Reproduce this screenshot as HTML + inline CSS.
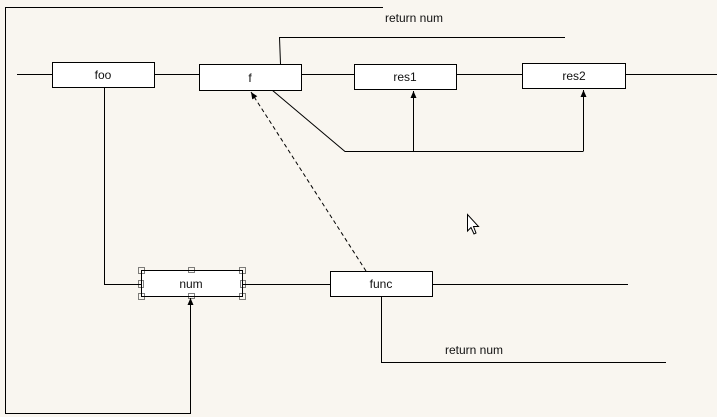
<!DOCTYPE html>
<html><head><meta charset="utf-8"><style>
html,body{margin:0;padding:0;background:#f9f6f0;}
svg{display:block;}
text{font-family:"Liberation Sans",sans-serif;font-size:12px;fill:#111;}
</style></head><body>
<svg width="717" height="417" viewBox="0 0 717 417" xmlns="http://www.w3.org/2000/svg">
<defs>
<marker id="a" markerWidth="8" markerHeight="8" refX="7" refY="4" orient="auto" markerUnits="userSpaceOnUse">
<path d="M0,1 L7,4 L0,7 Z" fill="#000"/></marker>
</defs>
<g stroke="#000" stroke-width="1" fill="none">
<polyline points="383,7.5 5.5,7.5 5.5,413.5 190.5,413.5 190.5,298" marker-end="url(#a)"/>
<line x1="17" y1="74.5" x2="717" y2="74.5"/>
<polyline points="280.5,64 279.5,37.5 565,37.5"/>
<polyline points="104.5,87 104.5,284.5 141,284.5"/>
<line x1="242" y1="284.5" x2="628" y2="284.5"/>
<polyline points="381.5,296 381.5,362.5 666,362.5"/>
<polyline points="272,90 345,151.5 583.5,151.5"/>
<line x1="413.5" y1="151" x2="413.5" y2="91" marker-end="url(#a)"/>
<line x1="583.5" y1="151" x2="583.5" y2="90" marker-end="url(#a)"/>
<line x1="366" y1="271" x2="251" y2="92" stroke-dasharray="4,3" marker-end="url(#a)"/>
</g>
<g stroke="#000" stroke-width="1" fill="#fff">
<rect x="52.5" y="62.5" width="102" height="25"/>
<rect x="199.5" y="64.5" width="102" height="26"/>
<rect x="354.5" y="64.5" width="102" height="25"/>
<rect x="522.5" y="63.5" width="103" height="25"/>
<rect x="141.5" y="270.5" width="101" height="26"/>
<rect x="330.5" y="271.5" width="102" height="25"/>
</g>
<g stroke="#000" stroke-width="1" fill="none" stroke-dasharray="1,1">
<rect x="138.5" y="267.5" width="6" height="6"/>
<rect x="239.5" y="267.5" width="6" height="6"/>
<rect x="138.5" y="293.5" width="6" height="6"/>
<rect x="239.5" y="293.5" width="6" height="6"/>
<rect x="188.5" y="267.5" width="6" height="5"/>
<rect x="188.5" y="293.5" width="6" height="5"/>
<rect x="138.5" y="280.5" width="5" height="7"/>
<rect x="240.5" y="280.5" width="5" height="7"/>
</g>
<text x="103" y="79" text-anchor="middle">foo</text>
<text x="250" y="82" text-anchor="middle">f</text>
<text x="405" y="81" text-anchor="middle">res1</text>
<text x="574" y="80" text-anchor="middle">res2</text>
<text x="191" y="288" text-anchor="middle">num</text>
<text x="381" y="288" text-anchor="middle">func</text>
<text x="385" y="22">return num</text>
<text x="445" y="354">return num</text>
<path d="M467.5,214.5 L467.5,231 L471,227.5 L474,234 L476,233 L473.5,226.5 L478.5,226.5 Z" fill="#fff" stroke="#000" stroke-width="1"/>
</svg>
</body></html>
